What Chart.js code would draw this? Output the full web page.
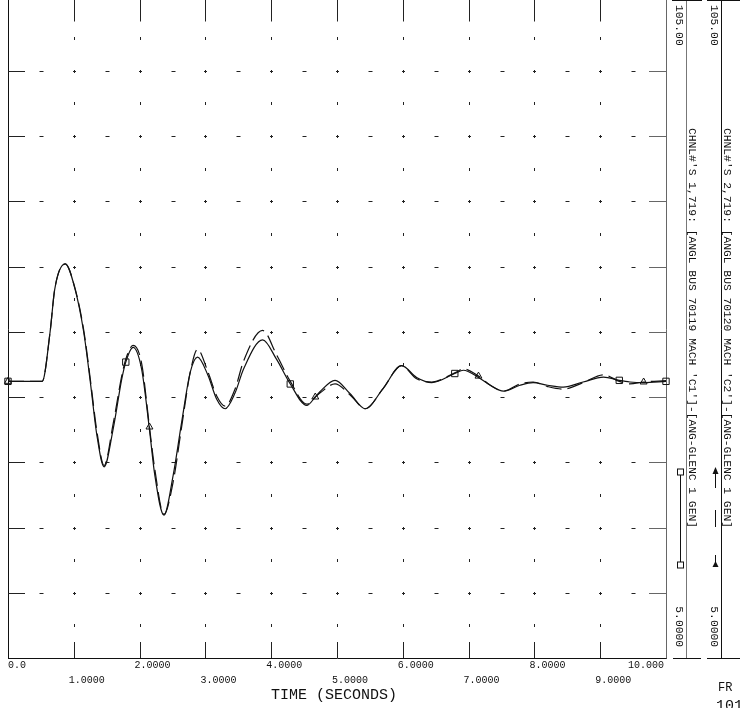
<!DOCTYPE html>
<html>
<head>
<meta charset="utf-8">
<script src="https://cdn.jsdelivr.net/npm/chart.js@4.4.1/dist/chart.umd.min.js"></script>
<style>
  html, body { margin: 0; padding: 0; background: #fff; }
  #wrap { width: 740px; height: 708px; }
</style>
</head>
<body>
<div id="wrap"><canvas id="plot" width="740" height="708"></canvas></div>
<script>
// time in seconds (degrees)
const time = [0.00, 0.52, 0.64, 0.71, 0.87, 1.02, 1.15, 1.25, 1.35, 1.46, 1.60, 1.73, 1.79, 1.90,
  2.03, 2.15, 2.23, 2.37, 2.51, 2.64, 2.77, 2.88, 3.04, 3.17, 3.30, 3.45, 3.58, 3.87, 4.08, 4.29,
  4.54, 4.67, 4.74, 4.97, 5.20, 5.43, 5.70, 5.98, 6.21, 6.44, 6.79, 6.92, 7.15, 7.33, 7.53, 7.78,
  7.98, 8.20, 8.44, 8.74, 9.05, 9.29, 9.45, 9.66, 10.00];
const chnl1 = [47.4, 47.4, 55.0, 61.5, 65.4, 61.5, 55.0, 47.4, 39.2, 34.3, 40.2, 47.8, 50.35, 52.6,
  49.3, 40.0, 33.1, 26.9, 33.0, 41.2, 48.8, 51.1, 48.3, 44.7, 43.2, 45.6, 49.3, 53.75, 50.8, 47.0,
  43.7, 45.0, 45.8, 47.55, 45.5, 43.2, 46.3, 49.8, 48.0, 47.2, 48.6, 49.1, 48.0, 46.8, 45.9, 46.8,
  47.2, 46.8, 46.5, 47.3, 48.05, 47.55, 47.3, 47.2, 47.4];
const chnl2 = [47.4, 47.4, 55.0, 61.5, 65.4, 61.6, 55.3, 47.8, 39.8, 34.5, 41.0, 48.3, 50.8, 52.9,
  50.2, 40.4, 34.0, 27.0, 32.0, 40.5, 48.8, 52.3, 48.8, 45.2, 43.6, 46.2, 50.5, 55.2, 51.5, 47.4,
  43.9, 45.0, 45.6, 47.0, 45.3, 43.2, 46.3, 49.8, 47.8, 47.3, 48.7, 49.3, 48.2, 46.8, 45.9, 47.0,
  47.3, 46.6, 46.2, 47.2, 48.4, 47.4, 47.0, 47.3, 47.5];

// symbols are drawn only at these times
const marks1 = [0, 1.79, 4.29, 6.79, 9.29, 10];
const marks2 = [0, 2.15, 4.67, 7.15, 9.66];

const xTicks = [0, 1, 2, 3, 4, 5, 6, 7, 8, 9, 10];
const xTickLabels = ['0.0', '1.0000', '2.0000', '3.0000', '4.0000', '5.0000',
  '6.0000', '7.0000', '8.0000', '9.0000', '10.000'];
const yMax = 105, yMin = 5, yStep = 10;

const chan1Text = "CHNL#'S 1,719: [ANGL BUS 70119 MACH 'C1']-[ANG-GLENC 1 GEN]";
const chan2Text = "CHNL#'S 2,719: [ANGL BUS 70120 MACH 'C2']-[ANG-GLENC 1 GEN]";
const mono = '"Liberation Mono", "DejaVu Sans Mono", monospace';

function vText(ctx, s, x, y, align) {
  ctx.save();
  ctx.translate(x, y);
  ctx.rotate(Math.PI / 2);
  ctx.textAlign = align || 'left';
  ctx.textBaseline = 'middle';
  ctx.fillText(s, 0, 0);
  ctx.restore();
}

function seg(ctx, x1, y1, x2, y2) {
  ctx.beginPath();
  ctx.moveTo(x1, y1);
  ctx.lineTo(x2, y2);
  ctx.stroke();
}

// dotted grid + frame ticks, in the style of the old plot package
const gridPlugin = {
  id: 'psseGrid',
  beforeDatasetsDraw(chart) {
    const { ctx, chartArea, scales } = chart;
    const { left, right, top, bottom } = chartArea;
    const xs = scales.x, ys = scales.y;
    ctx.save();
    ctx.lineWidth = 1;

    const rows = [];
    for (let v = yMin + yStep; v < yMax; v += yStep) rows.push(Math.round(ys.getPixelForValue(v)) + 0.5);
    const halfRows = [];
    for (let v = yMin + yStep / 2; v < yMax; v += yStep) halfRows.push(Math.round(ys.getPixelForValue(v)) + 0.5);
    const cols = xTicks.slice(1, -1).map(t => Math.round(xs.getPixelForValue(t)) + 0.5);
    const halfCols = xTicks.slice(0, -1).map(t => Math.round(xs.getPixelForValue(t + 0.5)) + 0.5);

    // frame
    ctx.strokeStyle = '#111';
    seg(ctx, left + 0.5, 0, left + 0.5, bottom + 0.5);
    seg(ctx, left, bottom + 0.5, right + 1, bottom + 0.5);
    ctx.strokeStyle = '#666';
    seg(ctx, right + 0.5, 0, right + 0.5, bottom + 0.5);

    ctx.strokeStyle = '#222';
    cols.forEach(x => {
      seg(ctx, x, 0, x, top + 16);
      seg(ctx, x, bottom, x, bottom - 16);
    });
    rows.forEach(y => {
      seg(ctx, left, y, left + 17, y);
      ctx.strokeStyle = '#666';
      seg(ctx, right - 17, y, right, y);
      ctx.strokeStyle = '#222';
      cols.forEach(x => {
        seg(ctx, x - 1.5, y, x + 1.5, y);
        seg(ctx, x, y - 1.5, x, y + 1.5);
      });
      halfCols.forEach(x => seg(ctx, x - 2, y, x + 2, y));
    });
    halfRows.forEach(y => {
      cols.forEach(x => seg(ctx, x, y - 1.5, x, y + 1.5));
    });
    ctx.restore();
  },
  afterDraw(chart) {
    const { ctx, chartArea, scales } = chart;
    const { left, right, bottom } = chartArea;
    const xs = scales.x;
    ctx.save();
    ctx.fillStyle = '#111';
    ctx.font = '10px ' + mono;
    ctx.textBaseline = 'middle';
    xTicks.forEach((t, i) => {
      const x = xs.getPixelForValue(t);
      if (i === 0) {
        ctx.textAlign = 'left';
        ctx.fillText(xTickLabels[i], x, bottom + 7);
      } else if (i === xTicks.length - 1) {
        ctx.textAlign = 'right';
        ctx.fillText(xTickLabels[i], x - 2, bottom + 7);
      } else {
        ctx.textAlign = 'left';
        ctx.fillText(xTickLabels[i], x - 5, bottom + (i % 2 ? 22 : 7));
      }
    });
    ctx.font = '15px ' + mono;
    ctx.textAlign = 'center';
    ctx.fillText('TIME (SECONDS)', (left + right) / 2 - 3, bottom + 37);

    ctx.font = '12px ' + mono;
    ctx.textAlign = 'left';
    ctx.fillText('FR', 718, 688);
    ctx.font = '15px ' + mono;
    ctx.fillText('101', 716, 706);

    // channel columns on the right
    ctx.lineWidth = 1;
    ctx.strokeStyle = '#777';
    seg(ctx, 686.5, 0, 686.5, bottom + 1);
    ctx.strokeStyle = '#111';
    seg(ctx, 721.5, 0, 721.5, bottom + 1);
    seg(ctx, 672, 0.5, 702, 0.5);
    seg(ctx, 707, 0.5, 740, 0.5);
    seg(ctx, 673, bottom + 0.5, 701, bottom + 0.5);
    seg(ctx, 707, bottom + 0.5, 740, bottom + 0.5);

    ctx.font = '11.3px ' + mono;
    const cols = [
      { x: 679, tx: 692, text: chan1Text },
      { x: 714, tx: 727, text: chan2Text }
    ];
    cols.forEach(c => {
      vText(ctx, yMax.toFixed(2), c.x, 5, 'left');
      vText(ctx, c.text, c.tx, 128, 'left');
      vText(ctx, yMin.toFixed(4), c.x, 647, 'right');
    });

    // legend samples
    ctx.strokeStyle = '#111';
    seg(ctx, 680.5, 472, 680.5, 565);
    [472, 565].forEach(y => {
      ctx.fillStyle = '#fff';
      ctx.fillRect(677.5, y - 3, 6, 6);
      ctx.strokeRect(677.5, y - 3, 6, 6);
    });
    ctx.fillStyle = '#111';
    seg(ctx, 715.5, 469, 715.5, 488);
    ctx.beginPath();
    ctx.moveTo(715.5, 467);
    ctx.lineTo(712.5, 474);
    ctx.lineTo(718.5, 474);
    ctx.closePath();
    ctx.fill();
    seg(ctx, 715.5, 510, 715.5, 527);
    seg(ctx, 715.5, 555, 715.5, 564);
    ctx.beginPath();
    ctx.moveTo(715.5, 561);
    ctx.lineTo(712.5, 567);
    ctx.lineTo(718.5, 567);
    ctx.closePath();
    ctx.fill();
    ctx.restore();
  }
};

const near = (arr, t) => arr.some(m => Math.abs(m - t) < 0.001);

new Chart(document.getElementById('plot'), {
  type: 'line',
  data: {
    datasets: [
      {
        label: chan1Text,
        data: time.map((t, i) => ({ x: t, y: chnl1[i] })),
        borderColor: '#111',
        borderWidth: 1.2,
        cubicInterpolationMode: 'monotone',
        pointStyle: 'rect',
        pointRadius: c => near(marks1, time[c.dataIndex]) ? 4.5 : 0,
        pointBackgroundColor: 'rgba(255,255,255,0)',
        pointBorderColor: '#111',
        pointBorderWidth: 1,
        clip: false
      },
      {
        label: chan2Text,
        data: time.map((t, i) => ({ x: t, y: chnl2[i] })),
        borderColor: '#111',
        borderWidth: 1.2,
        borderDash: [16, 6],
        cubicInterpolationMode: 'monotone',
        pointStyle: 'triangle',
        pointRadius: c => near(marks2, time[c.dataIndex]) ? 4 : 0,
        pointBackgroundColor: 'rgba(255,255,255,0)',
        pointBorderColor: '#111',
        pointBorderWidth: 1,
        clip: false
      }
    ]
  },
  options: {
    responsive: false,
    animation: false,
    devicePixelRatio: 1,
    layout: { padding: { left: 8, right: 74, top: 1, bottom: 50 } },
    plugins: {
      legend: { display: false },
      tooltip: { enabled: false }
    },
    scales: {
      x: { type: 'linear', min: 0, max: 10, display: false },
      y: { type: 'linear', min: yMin, max: yMax, display: false }
    }
  },
  plugins: [gridPlugin]
});
</script>
</body>
</html>
